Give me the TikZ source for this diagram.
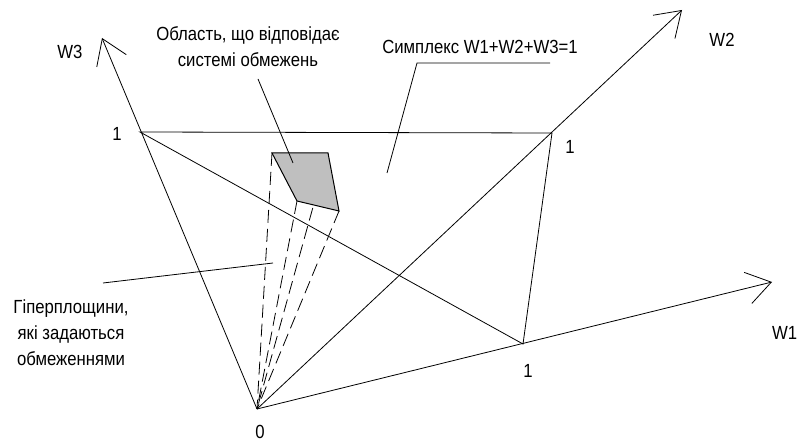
\documentclass[tikz,border=0pt]{standalone}
\usepackage{fontspec}
\setmainfont{Liberation Sans}[FakeStretch=0.88]
\usetikzlibrary{arrows.meta, positioning}

\begin{document}
\begin{tikzpicture}[
    x=1pt, y=-1pt,
    axis/.style={
        -{Straight Barb[length=24pt, width=32pt]},
        line width=0.8pt
    },
    edge/.style={
        line width=0.8pt
    },
    hyper/.style={
        dashed,
        dash pattern=on 13pt off 6pt,
        line width=0.8pt
    },
    region/.style={
        fill=black!25,
        draw=black,
        line width=1pt
    },
    lbl/.style={
        font=\fontsize{19}{22}\selectfont,
        inner sep=1pt
    },
    note/.style={
        font=\fontsize{19}{26}\selectfont,
        align=center,
        inner sep=1pt
    }
]
    \useasboundingbox (0,0) rectangle (797,443);

    % origin, unit points and axis tips
    \coordinate (O) at (257,409);
    \coordinate (e1) at (523,344);
    \coordinate (e2) at (552,133);
    \coordinate (e3) at (140,132);
    \coordinate (t1) at (772,282);
    \coordinate (t2) at (682,10);
    \coordinate (t3) at (102,38);

    % corners of the region
    \coordinate (q1) at (272,153);
    \coordinate (q2) at (328,153);
    \coordinate (q3) at (339,211);
    \coordinate (q4) at (297,201);

    % axes
    \draw [axis] (O) -- (t1);
    \draw [axis] (O) -- (t2);
    \draw [axis] (O) -- (t3);

    % simplex
    \draw [edge] (e3) -- (e2) -- (e1) -- cycle;

    % hyperplanes
    \foreach \q in {q1, q2, q3, q4}
        \draw [hyper] (\q) -- (O);

    \draw [region] (q1) -- (q2) -- (q3) -- (q4) -- cycle;

    % axis labels
    \node (w1) [lbl, anchor=west] at (771,333) {W1};
    \node (w2) [lbl] at (722,40) {W2};
    \node (w3) [lbl] at (70,52) {W3};
    \node (o) [lbl, inner sep=0pt] at (260,432) {0};
    \node (one1) [lbl] at (528,371) {1};
    \node (one2) [lbl] at (570,147) {1};
    \node (one3) [lbl] at (117,134) {1};

    % notes
    \node (simplex) [lbl] at (480,47) {Симплекс W1+W2+W3=1};
    \node (area) [note] at (248,47) {Область, що відповідає\\системі обмежень};
    \node (planes) [note] at (71,333) {Гіперплощини,\\які задаються\\обмеженнями};

    \coordinate (s1) at (550,63);
    \coordinate (s2) at (417,63);
    \coordinate (s3) at (387,173);
    \coordinate (a1) at (258,79);
    \coordinate (a2) at (293,163);
    \coordinate (p1) at (103,283);
    \coordinate (p2) at (273,263);

    \draw [edge] (s1) -- (s2) -- (s3);
    \draw [edge] (a1) -- (a2);
    \draw [edge] (p1) -- (p2);

\end{tikzpicture}
\end{document}
